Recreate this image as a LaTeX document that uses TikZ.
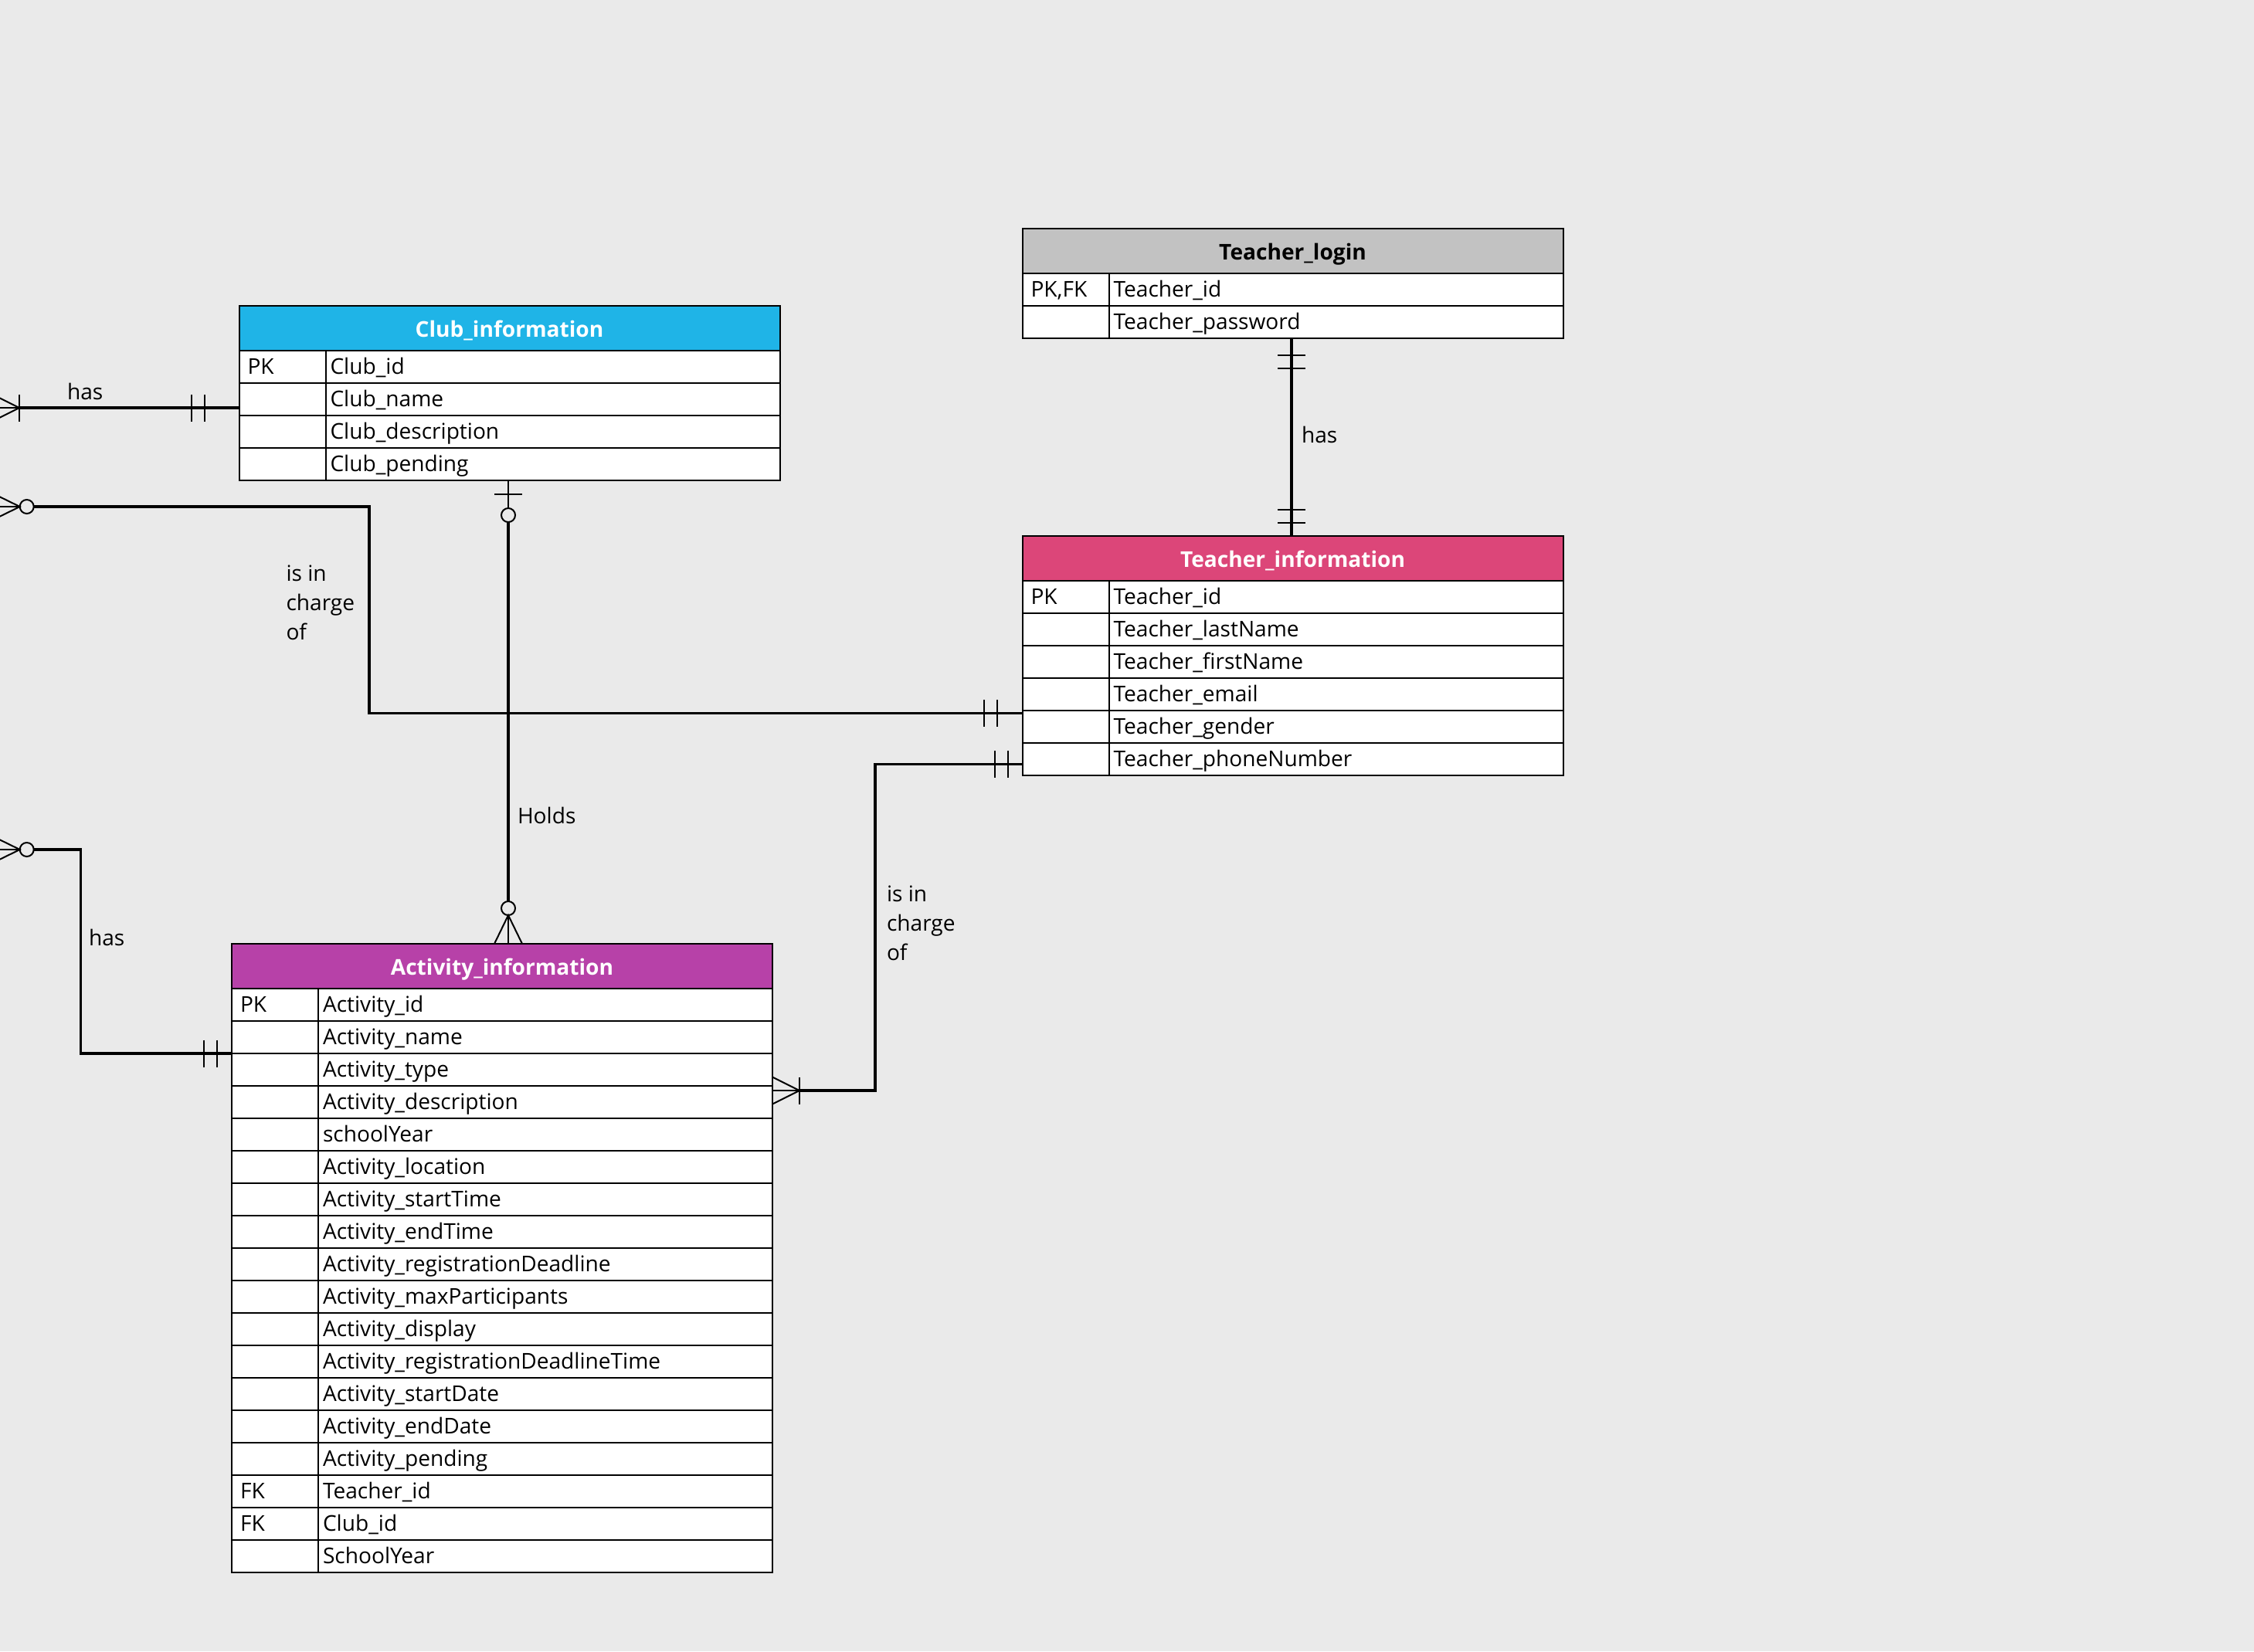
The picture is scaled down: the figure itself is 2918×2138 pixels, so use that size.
\documentclass[tikz,border=0pt]{standalone}
\usepackage{fontspec}
\setmainfont{Open Sans}
\usetikzlibrary{calc}
\definecolor{bgc}{HTML}{EAEAEA}
\definecolor{clubc}{HTML}{1FB4E7}
\definecolor{teachc}{HTML}{DC4679}
\definecolor{actc}{HTML}{B741A8}
\definecolor{loginc}{HTML}{C2C2C2}
% table: #1 name, #2 x, #3 y, #4 title, #5 fill, #6 title colour, #7 rows key/field
\newcommand\ertable[7]{%
  \node[hdr, fill=#5, anchor=north west] (#1) at (#2,#3) {};
  \node[htxt, text=#6, anchor=base] (#1-t) at ($(#1.center)+(0,11)$) {#4};
  \foreach [count=\i] \k/\f in {#7} {%
    \node[kcell, anchor=north west] (#1-k\i) at ($(#1.south west)+(0,{(\i-1)*42})$) {};
    \node[fcell, anchor=north west] (#1-f\i) at (#1-k\i.north east) {};
    \node[txt, anchor=base west] (#1-kt\i) at ($(#1-k\i.west)+(11,9.5)$) {\k};
    \node[txt, anchor=base west] (#1-ft\i) at ($(#1-f\i.west)+(6,9.5)$) {\f};
  }%
}
% zero-or-many foot, entity edge #1 on the left
\newcommand\zeromanyL[1]{%
  \draw[mk, fill=bgc] ($(#1)+(44.7,0)$) circle[radius=9];
  \draw[mk] ($(#1)+(0,-17.5)$) -- ($(#1)+(35.7,0)$) -- ($(#1)+(0,17.5)$);
  \draw[mk] ($(#1)+(35.7,0)$) -- (#1);
}
% vertical tick on a horizontal line, at offset #2 from #1
\newcommand\tickv[2]{\draw[mk] ($(#1)+(#2,-17.5)$) -- ++(0,35);}
% horizontal tick on a vertical line
\newcommand\tickh[2]{\draw[mk] ($(#1)+(-18,#2)$) -- ++(36,0);}
\begin{document}
\begin{tikzpicture}[x=0.5pt,y=-0.5pt,
  hdr/.style={draw=black, line width=1pt, minimum width=350pt, minimum height=29pt, inner sep=0pt, outer sep=0pt},
  kcell/.style={draw=black, fill=white, line width=1pt, minimum width=56pt, minimum height=21pt, inner sep=0pt, outer sep=0pt},
  fcell/.style={draw=black, fill=white, line width=1pt, minimum width=294pt, minimum height=21pt, inner sep=0pt, outer sep=0pt},
  txt/.style={inner sep=0pt, outer sep=0pt, font=\fontsize{14.05pt}{17pt}\selectfont, text=black},
  htxt/.style={inner sep=0pt, outer sep=0pt, font=\fontsize{14.05pt}{17pt}\selectfont\bfseries},
  conn/.style={draw=black, line width=1.75pt, line join=miter},
  mk/.style={draw=black, line width=1pt},
]
\fill[bgc] (0,0) rectangle (2918,2138);
\useasboundingbox (0,0) rectangle (2918,2138);

\ertable{club}{309.5}{396}{Club\_information}{clubc}{white}%
  {PK/Club\_id, {}/Club\_name, {}/Club\_description, {}/Club\_pending}
\ertable{tl}{1323.5}{296}{Teacher\_login}{loginc}{black}%
  {{PK,FK}/Teacher\_id, {}/Teacher\_password}
\ertable{ti}{1323.5}{694}{Teacher\_information}{teachc}{white}%
  {PK/Teacher\_id, {}/Teacher\_lastName, {}/Teacher\_firstName, {}/Teacher\_email, {}/Teacher\_gender, {}/Teacher\_phoneNumber}
\ertable{act}{300}{1222}{Activity\_information}{actc}{white}%
  {PK/Activity\_id, {}/Activity\_name, {}/Activity\_type, {}/Activity\_description, {}/schoolYear, {}/Activity\_location, {}/Activity\_startTime, {}/Activity\_endTime, {}/Activity\_registrationDeadline, {}/Activity\_maxParticipants, {}/Activity\_display, {}/Activity\_registrationDeadlineTime, {}/Activity\_startDate, {}/Activity\_endDate, {}/Activity\_pending, FK/Teacher\_id, FK/Club\_id, {}/SchoolYear}

% C1: Club -- off-left entity (has)
\coordinate (s1) at ($(club-k2.west)+(0,11)$);
\coordinate (o1) at (-10,528);
\draw[conn] (s1) -- ($(o1)+(35,0)$);
\tickv{s1}{-62}\tickv{s1}{-45}
\draw[mk] ($(o1)+(35,-17.5)$) -- ++(0,35);
\draw[mk] ($(o1)+(0,-17.5)$) -- ($(o1)+(35,0)$) -- ($(o1)+(0,17.5)$);
\draw[mk] ($(o1)+(35,0)$) -- (o1);
\node[txt, anchor=base west] (l1) at (87,517) {has};

% C2: Teacher_information -- off-left entity (is in charge of)
\coordinate (s2) at ($(ti-k5.north west)+(0,3.5)$);
\coordinate (o2) at (-10,656);
\draw[conn] (s2) -| ($(o2)+(488,0)$) -- ($(o2)+(53.7,0)$);
\tickv{s2}{-49.5}\tickv{s2}{-32.5}
\zeromanyL{o2}
\node[txt, anchor=base west] (l2a) at (370.5,752) {is in};
\node[txt, anchor=base west] (l2b) at (370.5,790) {charge};
\node[txt, anchor=base west] (l2c) at (370.5,828) {of};

% C3: Club -- Activity (Holds)
\coordinate (s3) at ($(club-k4.south west)+(348.5,0)$);
\coordinate (e3) at ($(act.north west)+(358,0)$);
\draw[mk] (s3) -- ($(s3)+(0,36)$);
\tickh{s3}{18}
\draw[mk, fill=bgc] ($(s3)+(0,45)$) circle[radius=9];
\draw[conn] ($(s3)+(0,54)$) -- ($(e3)+(0,-55)$);
\draw[mk, fill=bgc] ($(e3)+(0,-46)$) circle[radius=9];
\draw[mk] ($(e3)+(-18,0)$) -- ($(e3)+(0,-37)$) -- ($(e3)+(18,0)$);
\draw[mk] ($(e3)+(0,-37)$) -- (e3);
\node[txt, anchor=base west] (l3) at (670,1066) {Holds};

% C4: Teacher_information -- Activity (is in charge of)
\coordinate (s4) at ($(ti-k6.north west)+(0,27.5)$);
\coordinate (e4) at ($(act-f4.north east)+(0,6)$);
\draw[conn] (s4) -| ($(e4)+(133,0)$) -- ($(e4)+(35,0)$);
\tickv{s4}{-35.5}\tickv{s4}{-18.5}
\draw[mk] ($(e4)+(35,-17.5)$) -- ++(0,35);
\draw[mk] ($(e4)+(0,-17.5)$) -- ($(e4)+(35,0)$) -- ($(e4)+(0,17.5)$);
\draw[mk] ($(e4)+(35,0)$) -- (e4);
\node[txt, anchor=base west] (l4a) at (1148,1167.5) {is in};
\node[txt, anchor=base west] (l4b) at (1148,1205.5) {charge};
\node[txt, anchor=base west] (l4c) at (1148,1243) {of};

% C5: Activity -- off-left entity (has)
\coordinate (s5) at (act-k3.north west);
\coordinate (o5) at (-10,1100);
\draw[conn] (s5) -| ($(o5)+(114.3,0)$) -- ($(o5)+(53.7,0)$);
\tickv{s5}{-36}\tickv{s5}{-19}
\zeromanyL{o5}
\node[txt, anchor=base west] (l5) at (115,1224) {has};

% C6: Teacher_login -- Teacher_information (has)
\coordinate (s6) at ($(tl-f2.south west)+(236.5,0)$);
\coordinate (e6) at ($(ti.north west)+(348.5,0)$);
\draw[conn] (s6) -- (e6);
\tickh{s6}{22}\tickh{s6}{39}
\tickh{e6}{-34}\tickh{e6}{-17}
\node[txt, anchor=base west] (l6) at (1685,573) {has};
\end{tikzpicture}
\end{document}
